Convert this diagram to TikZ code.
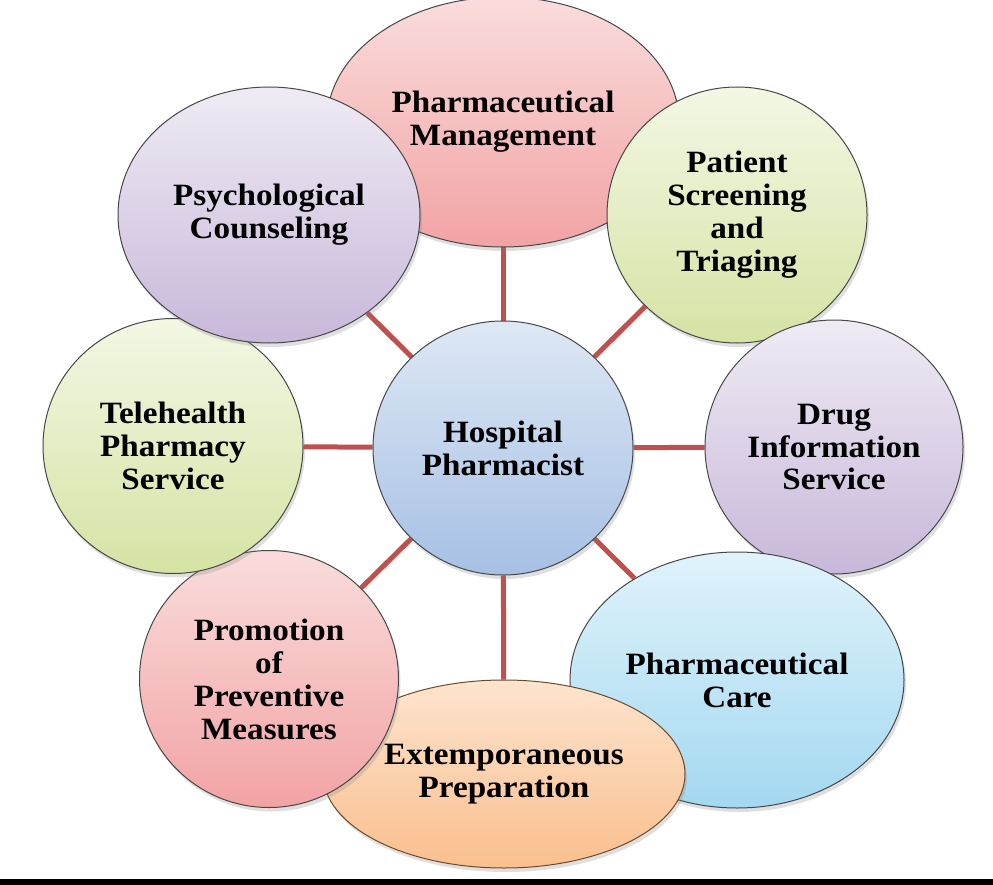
\documentclass[tikz,border=0pt]{standalone}
\usepackage{fontspec}
\setmainfont[FakeStretch=1.07]{Liberation Serif}
\usetikzlibrary{shapes.geometric,shadows,backgrounds}
\definecolor{pinkT}{HTML}{FADCDC}
\definecolor{pinkB}{HTML}{F2A3A4}
\definecolor{greenT}{HTML}{F3F7E4}
\definecolor{greenB}{HTML}{D5E3A4}
\definecolor{purpT}{HTML}{EFEBF4}
\definecolor{purpB}{HTML}{C8B8DA}
\definecolor{blueT}{HTML}{DEE8F5}
\definecolor{blueB}{HTML}{A6C0E4}
\definecolor{cyanT}{HTML}{E0F3FB}
\definecolor{cyanB}{HTML}{A3D8F1}
\definecolor{orT}{HTML}{FDE4CE}
\definecolor{orB}{HTML}{FABF8E}
\definecolor{edge}{HTML}{474747}
\definecolor{oredge}{HTML}{6B4A2C}
\definecolor{link}{HTML}{C0504D}
\tikzset{
  bubble/.style={ellipse, draw=edge, line width=1pt, inner sep=0pt, align=center,
    font=\fontsize{31}{33}\selectfont\bfseries,
    drop shadow={opacity=0.25, shadow xshift=2pt, shadow yshift=-4pt}},
  pinkfill/.style={top color=pinkT, bottom color=pinkB},
  greenfill/.style={top color=greenT, bottom color=greenB},
  purpfill/.style={top color=purpT, bottom color=purpB},
  bluefill/.style={top color=blueT, bottom color=blueB},
  cyanfill/.style={top color=cyanT, bottom color=cyanB},
  orfill/.style={top color=orT, bottom color=orB, draw=oredge},
  linkline/.style={draw=link, line width=5pt}
}
\begin{document}
\begin{tikzpicture}[x=1pt,y=-1pt]
\useasboundingbox (0,0) rectangle (993,885);
\fill[black] (0,879) rectangle (993,885);
\node[bubble,pinkfill,minimum width=352pt,minimum height=250pt] (mgmt) at (503,122) {Pharmaceutical\\Management};
\node[bubble,greenfill,minimum width=260pt,minimum height=256pt] (screen) at (737,215) {Patient\\Screening\\and\\Triaging};
\node[bubble,purpfill,minimum width=258pt,minimum height=254pt] (drug) at (834,447) {Drug\\Information\\Service};
\node[bubble,cyanfill,minimum width=334pt,minimum height=256pt] (care) at (737,680) {Pharmaceutical\\Care};
\node[bubble,orfill,minimum width=362pt,minimum height=188pt] (extemp) at (504,774) {Extemporaneous\\Preparation};
\node[bubble,pinkfill,minimum width=259pt,minimum height=257pt] (promo) at (269,679) {Promotion\\of\\Preventive\\Measures};
\node[bubble,greenfill,minimum width=260pt,minimum height=255pt] (tele) at (173,446) {Telehealth\\Pharmacy\\Service};
\node[bubble,purpfill,minimum width=302pt,minimum height=256pt] (psych) at (269,215) {Psychological\\Counseling};
\node[bubble,bluefill,minimum width=260pt,minimum height=254pt] (hub) at (503,448) {Hospital\\Pharmacist};
\begin{scope}[on background layer]
\draw[linkline] (hub) -- (mgmt);
\draw[linkline] (hub) -- (screen);
\draw[linkline] (hub) -- (drug);
\draw[linkline] (hub) -- (care);
\draw[linkline] (hub) -- (extemp);
\draw[linkline] (hub) -- (promo);
\draw[linkline] (hub) -- (tele);
\draw[linkline] (hub) -- (psych);
\end{scope}
\end{tikzpicture}
\end{document}
